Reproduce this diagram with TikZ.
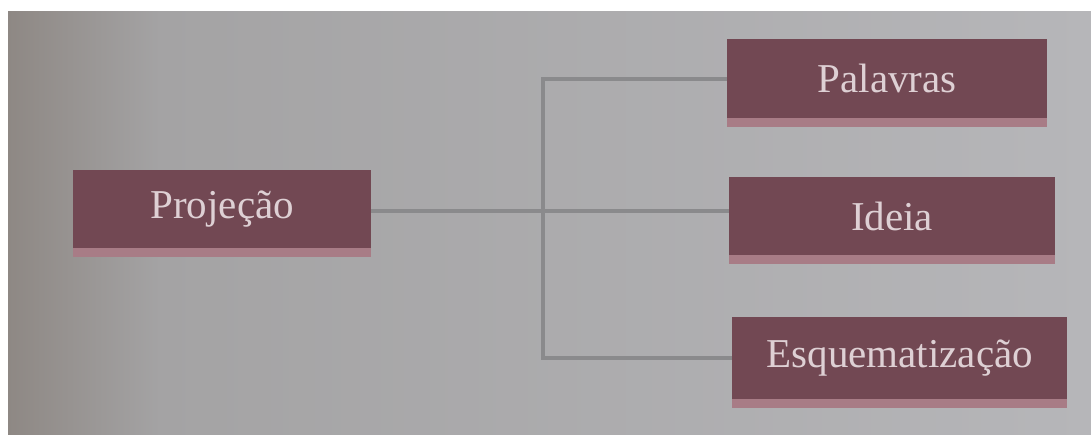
\documentclass[tikz,border=0pt]{standalone}
\usepackage{fontspec}
\setmainfont{Liberation Serif}
\definecolor{boxc}{RGB}{114,72,83}
\definecolor{shadc}{RGB}{168,124,134}
\definecolor{txtc}{RGB}{222,208,212}
\definecolor{linec}{RGB}{138,138,140}
\definecolor{bgl}{RGB}{142,136,132}
\definecolor{bgm}{RGB}{164,163,164}
\definecolor{bgr}{RGB}{182,182,185}
\begin{document}
\begin{tikzpicture}[x=1pt,y=-1pt,
  box/.style={fill=boxc, text=txtc, font=\fontsize{41}{44}\selectfont,
    inner sep=0pt, anchor=north west},
  shadowband/.style={fill=shadc},
  conn/.style={draw=linec, line width=4pt}]
  \useasboundingbox (0,0) rectangle (1091,434);
  \fill[white] (0,0) rectangle (1091,434);
  \shade[left color=bgl, right color=bgm] (8,11) rectangle (160,434);
  \shade[left color=bgm, right color=bgr] (159.5,11) rectangle (1091,434);
  % boxes
  \node[box, minimum width=298pt, minimum height=78pt] (proj) at (73,170) {Projeção};
  \node[box, minimum width=320pt, minimum height=79pt] (pal) at (727,39) {Palavras};
  \node[box, minimum width=326pt, minimum height=78pt] (ide) at (729,177) {Ideia};
  \node[box, minimum width=335pt, minimum height=82pt] (esq) at (732,317) {Esquematização};
  \foreach \n in {proj,pal,ide,esq}{
    \fill[shadowband] (\n.south west) rectangle ([yshift=-9pt]\n.south east);
  }
  % connectors
  \draw[conn] ([yshift=-2pt]proj.east) -- ([yshift=-2pt]proj.east -| ide.west);
  \draw[conn] (pal.west) -- ++(-184,0) |- (esq.west);
\end{tikzpicture}
\end{document}
